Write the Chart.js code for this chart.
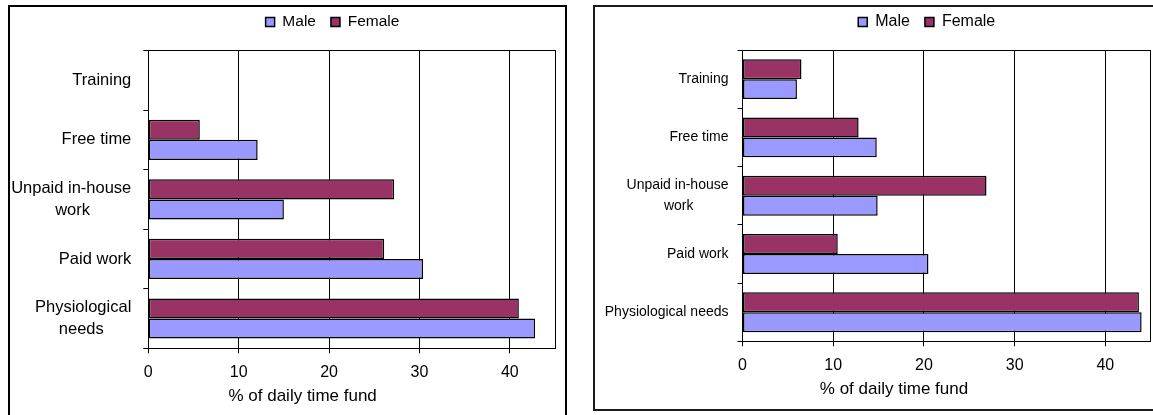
<!DOCTYPE html>
<html>
<head>
<meta charset="utf-8">
<script src="https://cdn.jsdelivr.net/npm/chart.js@4.4.1/dist/chart.umd.min.js"></script>
<style>
  html, body { margin: 0; padding: 0; background: #fff; width: 1153px; height: 415px; overflow: hidden; }
  .panel { position: absolute; border: 2px solid #000; background: #fff; }
  #leftPanel { left: 8px; top: 5px; width: 555px; height: 408px; }
  #rightPanel { left: 593px; top: 5px; width: 560px; height: 402px; border-color: #1a1a1a; }
  canvas { display: block; }
</style>
</head>
<body>
<div class="panel" id="leftPanel"><canvas id="leftChart" width="555" height="408"></canvas></div>
<div class="panel" id="rightPanel"><canvas id="rightChart" width="560" height="402"></canvas></div>
<script>
// Time-use categories, listed top to bottom
const leftCategories = ['Training', 'Free time', ['Unpaid in-house', 'work'], 'Paid work', ['Physiological', 'needs']];
const rightCategories = ['Training', 'Free time', ['Unpaid in-house', 'work'], 'Paid work', 'Physiological needs'];

// Share of the daily time fund, %
const leftMale   = [null, 12.1, 15.0, 30.4, 42.8];
const leftFemale = [null,  5.7, 27.2, 26.1, 41.0];
const rightMale   = [6.0, 14.8, 14.9, 20.5, 44.0];
const rightFemale = [6.5, 12.8, 26.9, 10.5, 43.7];

// Value axis
const xTickValues = [0, 10, 20, 30, 40];
const xMax = 45;
const axisTitle = '% of daily time fund';
const seriesNames = ['Male', 'Female'];

const FONT_FAMILY = "'Liberation Sans', Arial, Helvetica, sans-serif";
Chart.defaults.font.family = FONT_FAMILY;
Chart.defaults.color = '#000';

// Pads the shorter lines of a multi-line label so the lines sit centred
// under one another while the whole block stays right-aligned at the axis.
const measureCtx = document.createElement('canvas').getContext('2d');
function centreLines(label, size) {
  if (!Array.isArray(label)) return label;
  measureCtx.font = size + 'px ' + FONT_FAMILY;
  const widths = label.map(t => measureCtx.measureText(t).width);
  const widest = Math.max(...widths);
  const space = measureCtx.measureText(' ').width;
  return label.map((t, i) => t + ' '.repeat(Math.round((widest - widths[i]) / 2 / space)));
}

// Moves the legend and the value-axis title sideways after layout.
const nudge = {
  id: 'nudge',
  afterLayout(chart, args, opts) {
    const lg = chart.legend;
    if (lg) {
      lg.left += opts.legendX; lg.right += opts.legendX;
      lg.top += opts.legendY; lg.bottom += opts.legendY;
    }
    const sx = chart.scales.x;
    if (sx && !sx._titleNudged) {
      const drawTitle = sx.drawTitle;
      sx.drawTitle = function () {
        this.ctx.save();
        this.ctx.translate(opts.titleX, 0);
        drawTitle.apply(this, arguments);
        this.ctx.restore();
      };
      sx._titleNudged = true;
    }
  }
};

function buildChart(canvasId, cfg) {
  const common = { borderColor: '#000', borderWidth: 1.5, borderSkipped: false,
                   categoryPercentage: cfg.catPct, barPercentage: 1 };
  return new Chart(document.getElementById(canvasId), {
    type: 'bar',
    data: {
      labels: cfg.categories,
      datasets: [
        Object.assign({ label: seriesNames[1], data: cfg.female, backgroundColor: '#993366' }, common),
        Object.assign({ label: seriesNames[0], data: cfg.male, backgroundColor: '#9999FF' }, common)
      ]
    },
    options: {
      indexAxis: 'y',
      responsive: false,
      animation: false,
      layout: { padding: { left: 0, right: cfg.padRight, top: 0, bottom: 0 } },
      plugins: {
        legend: {
          reverse: true,
          labels: { font: { size: cfg.legendSize }, boxWidth: 9, boxHeight: 9, padding: 15, color: '#000' }
        },
        tooltip: { enabled: false },
        nudge: { legendX: cfg.legendX, legendY: cfg.legendY, titleX: cfg.titleX }
      },
      scales: {
        x: {
          type: 'linear', position: 'bottom', min: 0, max: xMax,
          grid: { color: '#000', lineWidth: 1, tickLength: 5 },
          border: { color: '#000', width: 1 },
          ticks: { font: { size: 16 }, padding: cfg.tickPad, color: '#000', maxRotation: 0 },
          afterBuildTicks(s) { s.ticks = xTickValues.map(v => ({ value: v })); },
          title: { display: true, text: axisTitle, font: { size: 17 }, color: '#000',
                   padding: { top: 0, bottom: cfg.titlePad } },
          afterFit(s) { s.height = cfg.xHeight; }
        },
        x2: {
          type: 'linear', position: 'top', min: 0, max: xMax,
          grid: { display: false, drawTicks: false },
          border: { display: true, color: '#000', width: 1 },
          ticks: { display: false },
          afterFit(s) { s.height = cfg.topGap; }
        },
        y: {
          type: 'category', position: 'left',
          grid: { drawOnChartArea: false, color: '#000', lineWidth: 1, tickLength: 5, offset: true },
          border: { color: '#000', width: 1 },
          ticks: {
            font: { size: cfg.catSize, lineHeight: cfg.catLine }, padding: cfg.catPad, color: '#000', autoSkip: false,
            callback(v) { return centreLines(this.getLabelForValue(v), cfg.catSize); }
          },
          afterFit(s) { s.width = cfg.yWidth; }
        },
        y2: {
          type: 'linear', position: 'right',
          grid: { display: false, drawTicks: false },
          border: { display: true, color: '#000', width: 1 },
          ticks: { display: false },
          afterFit(s) { s.width = 0; }
        }
      }
    },
    plugins: [nudge]
  });
}

buildChart('leftChart', {
  categories: leftCategories, male: leftMale, female: leftFemale,
  catPct: 0.675, padRight: 10, yWidth: 138.3, xHeight: 66.7, topGap: 3,
  legendSize: 15.5, legendX: 50, legendY: -7.75, titleX: -49,
  tickPad: 9.6, titlePad: 8.8, catSize: 16.5, catLine: 1.31, catPad: 12
});

buildChart('rightChart', {
  categories: rightCategories, male: rightMale, female: rightFemale,
  catPct: 0.686, padRight: 4.3, yWidth: 147.5, xHeight: 67.7, topGap: 2,
  legendSize: 16, legendX: 53.9, legendY: -8, titleX: -52.6,
  tickPad: 9.7, titlePad: 9.8, catSize: 14, catLine: 1.48, catPad: 9
});
</script>
</body>
</html>
